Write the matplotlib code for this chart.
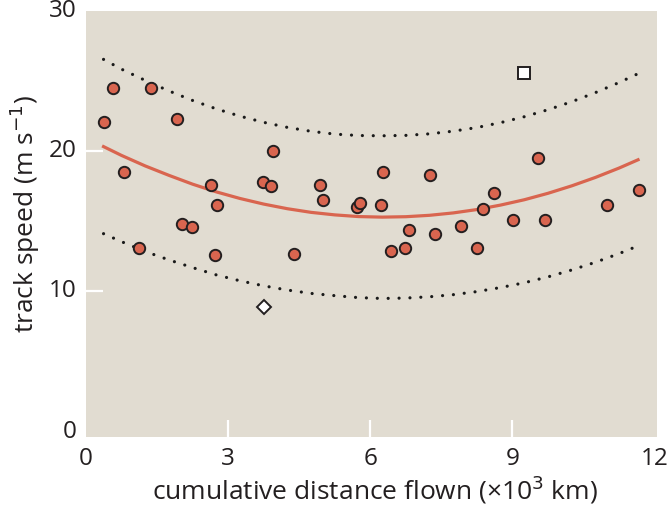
import matplotlib
matplotlib.use("Agg")
import matplotlib.pyplot as plt

# --- data ---
dist = [0.39, 0.57, 0.81, 1.12, 1.37, 1.93, 2.02, 2.23, 2.63, 2.73, 2.77, 3.74,
        3.91, 3.95, 4.40, 4.93, 5.00, 5.71, 5.79, 6.23, 6.26, 6.43, 6.73, 6.81,
        7.26, 7.37, 7.91, 8.25, 8.37, 8.60, 9.02, 9.54, 9.69, 10.99, 11.68]
speed = [22.05, 24.5, 18.5, 13.1, 24.5, 22.3, 14.8, 14.6, 17.6, 12.6, 16.2, 17.8,
         17.5, 20.05, 12.7, 17.6, 16.5, 16.05, 16.3, 16.2, 18.5, 12.9, 13.1, 14.4,
         18.3, 14.1, 14.7, 13.1, 15.9, 17.0, 15.1, 19.5, 15.1, 16.2, 17.2]

square_pt = (9.24, 25.6)
diamond_pt = (3.75, 8.9)

curve_x = [0.37, 0.75, 1.25, 1.75, 2.25, 2.75, 3.25, 3.75, 4.25, 4.75, 5.25, 5.75,
           6.25, 6.75, 7.25, 7.75, 8.25, 8.75, 9.25, 9.75, 10.25, 10.75, 11.25, 11.65]
fit_y = [20.33, 19.70, 18.95, 18.28, 17.65, 17.10, 16.63, 16.23, 15.90, 15.64,
         15.46, 15.34, 15.30, 15.33, 15.43, 15.60, 15.84, 16.16, 16.54, 17.00,
         17.53, 18.13, 18.80, 19.39]
upper_y = [26.55, 25.85, 25.05, 24.30, 23.62, 23.02, 22.50, 22.06, 21.70, 21.42,
           21.22, 21.12, 21.10, 21.13, 21.24, 21.43, 21.69, 22.04, 22.46, 22.96,
           23.53, 24.18, 24.90, 25.53]
lower_y = [14.12, 13.55, 12.85, 12.25, 11.70, 11.18, 10.76, 10.40, 10.10, 9.86,
           9.70, 9.56, 9.50, 9.53, 9.62, 9.77, 9.99, 10.28, 10.62, 11.04, 11.53,
           12.08, 12.70, 13.25]

xticks = [0, 3, 6, 9, 12]
yticks = [0, 10, 20, 30]

# --- styling ---
bg = "#e1dcd1"
red = "#d9654f"
txt = "#231f20"
plt.rcParams['font.family'] = ['Open Sans', 'DejaVu Sans']

fig = plt.figure(figsize=(6.71, 5.08), dpi=100)
ax = fig.add_axes([86/671, 1-437/508, (657-86)/671, (437-11)/508])
ax.set_facecolor(bg)
for s in ax.spines.values():
    s.set_visible(False)

dots = (0, (0.01, 3.4))
ax.plot(curve_x, upper_y, color="#1a1a1a", lw=2.3, linestyle=dots,
        dash_capstyle='round', zorder=2)
ax.plot(curve_x, lower_y, color="#1a1a1a", lw=2.3, linestyle=dots,
        dash_capstyle='round', zorder=2)
ax.plot(curve_x, fit_y, color=red, lw=2.3, zorder=3)

ax.plot(dist, speed, linestyle='none', marker='o', markersize=8.2,
        markerfacecolor=red, markeredgecolor="#231f20", markeredgewidth=1.4, zorder=4)
ax.plot([square_pt[0]], [square_pt[1]], linestyle='none', marker='s', markersize=8.5,
        markerfacecolor='white', markeredgecolor="#231f20", markeredgewidth=1.4, zorder=4)
ax.plot([diamond_pt[0]], [diamond_pt[1]], linestyle='none', marker='D', markersize=7.5,
        markerfacecolor='white', markeredgecolor="#231f20", markeredgewidth=1.4, zorder=4)

ax.set_xlim(0, 12.05)
ax.set_ylim(-0.38, 30)
ax.set_xticks(xticks)
ax.set_yticks(yticks)
ax.set_xticklabels([str(t) for t in xticks])
ax.set_yticklabels([str(t) for t in yticks])
ax.tick_params(axis='both', direction='in', length=12, width=1.6, color='white',
               labelsize=17.5, labelcolor=txt)
ax.tick_params(axis='x', pad=7)
ax.tick_params(axis='y', pad=7)
for t in (ax.xaxis.get_major_ticks()[0], ax.xaxis.get_major_ticks()[-1],
          ax.yaxis.get_major_ticks()[0], ax.yaxis.get_major_ticks()[-1]):
    t.tick1line.set_visible(False)
for lbl in ax.get_yticklabels():
    lbl.set_verticalalignment('center')

ax.set_xlabel("cumulative distance flown (×10$^{3}$ km)", fontsize=19, color=txt)
ax.set_ylabel("track speed (m s$^{-1}$)", fontsize=19, color=txt)
ax.xaxis.label.set_verticalalignment('center')
ax.yaxis.label.set_verticalalignment('center')
ax.xaxis.set_label_coords((375 - 86) / 571, -(490 - 437) / 426)
ax.yaxis.set_label_coords(-(86 - 25) / 571, (437 - 214) / 426)

fig.savefig("out.png", dpi=100)
